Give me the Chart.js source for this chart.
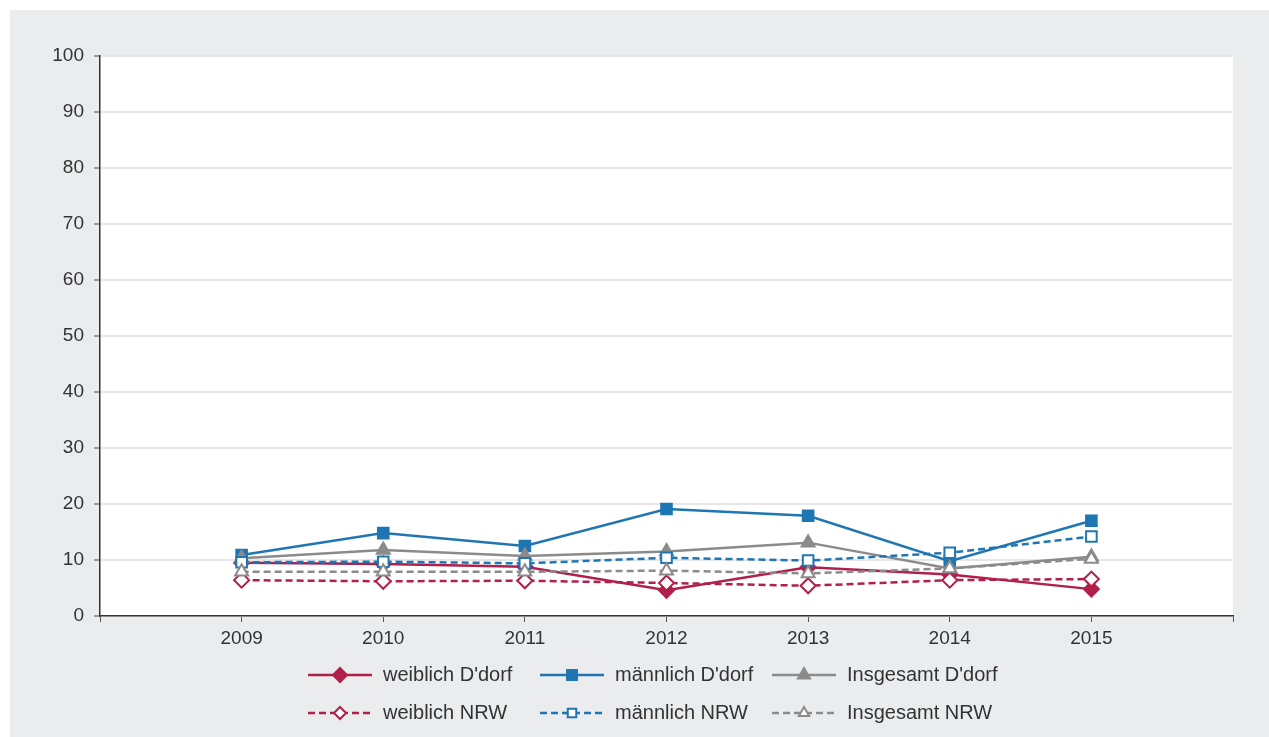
<!DOCTYPE html>
<html>
<head>
<meta charset="utf-8">
<script src="https://cdn.jsdelivr.net/npm/chart.js@4"></script>
<style>
  body { margin: 0; background: #fff; }
  #panel { position: absolute; left: 10px; top: 10px; width: 1259px; height: 727px; background: #ebecee; }
</style>
</head>
<body>
<div id="panel"><canvas id="chart" width="1259" height="727"></canvas></div>
<script>
const years = [2009, 2010, 2011, 2012, 2013, 2014, 2015];
const weiblichDdorf = [9.5, 9.3, 8.8, 4.6, 8.7, 7.4, 4.8];
const maennlichDdorf = [10.9, 14.8, 12.5, 19.1, 17.9, 9.8, 17.0];
const insgesamtDdorf = [10.3, 11.8, 10.7, 11.5, 13.1, 8.5, 10.6];
const weiblichNRW = [6.4, 6.2, 6.3, 5.9, 5.4, 6.4, 6.6];
const maennlichNRW = [9.6, 9.7, 9.4, 10.4, 9.9, 11.3, 14.2];
const insgesamtNRW = [7.9, 7.9, 7.9, 8.1, 7.6, 8.5, 10.2];

const RED = "#b11f4b";
const BLUE = "#1f76b3";
const GREY = "#8b8b8c";
const FONT = "'Liberation Sans', Arial, sans-serif";

function series(label, values, color, style, dashed, order) {
  return {
    label: label,
    data: values.map((v, i) => ({ x: years[i], y: v })),
    borderColor: color,
    borderWidth: 2.5,
    borderDash: dashed ? [7, 4] : [],
    pointStyle: style,
    pointRadius: style === "triangle" ? 7.5 : 7.5,
    pointBorderWidth: 2,
    pointBorderColor: color,
    pointBackgroundColor: dashed ? "#ffffff" : color,
    tension: 0,
    order: order
  };
}

const datasets = [
  series("weiblich D'dorf", weiblichDdorf, RED, "rectRot", false, 6),
  series("männlich D'dorf", maennlichDdorf, BLUE, "rect", false, 5),
  series("Insgesamt D'dorf", insgesamtDdorf, GREY, "triangle", false, 4),
  series("weiblich NRW", weiblichNRW, RED, "rectRot", true, 3),
  series("männlich NRW", maennlichNRW, BLUE, "rect", true, 2),
  series("Insgesamt NRW", insgesamtNRW, GREY, "triangle", true, 1)
];

// white plot area on the grey panel
const plotBackground = {
  id: "plotBackground",
  beforeDraw(chart) {
    const { ctx, chartArea } = chart;
    ctx.save();
    ctx.fillStyle = "#ffffff";
    ctx.fillRect(chartArea.left, chartArea.top, chartArea.right - chartArea.left, chartArea.bottom - chartArea.top);
    ctx.restore();
  }
};

// two-row legend with line samples and markers
const lineLegend = {
  id: "lineLegend",
  afterDraw(chart) {
    const ctx = chart.ctx;
    const startX = 298, colW = 232, sample = 64, rows = [665, 703];
    chart.data.datasets.forEach((ds, i) => {
      const x = startX + (i % 3) * colW;
      const y = rows[Math.floor(i / 3)];
      const open = ds.borderDash.length > 0;
      ctx.save();
      ctx.strokeStyle = ds.borderColor;
      ctx.lineWidth = 2.5;
      ctx.setLineDash(ds.borderDash);
      ctx.beginPath();
      ctx.moveTo(x, y);
      ctx.lineTo(x + sample, y);
      ctx.stroke();
      ctx.setLineDash([]);
      ctx.fillStyle = ds.pointBackgroundColor;
      ctx.strokeStyle = ds.pointBorderColor;
      ctx.lineWidth = 2;
      Chart.helpers.drawPoint(ctx, { pointStyle: ds.pointStyle, radius: open ? 6 : 7, rotation: 0, borderWidth: 2 }, x + sample / 2, y);
      ctx.fillStyle = "#333333";
      ctx.font = "20px " + FONT;
      ctx.textBaseline = "middle";
      ctx.textAlign = "left";
      ctx.fillText(ds.label, x + sample + 11, y);
      ctx.restore();
    });
  }
};

new Chart(document.getElementById("chart"), {
  type: "line",
  data: { datasets: datasets },
  options: {
    responsive: false,
    animation: false,
    layout: { padding: { top: 46, right: 36, bottom: 0, left: 0 } },
    plugins: {
      legend: { display: false },
      tooltip: { enabled: false }
    },
    scales: {
      x: {
        type: "linear",
        min: 2008,
        max: 2016,
        afterFit(scale) { scale.height = 121; },
        ticks: {
          stepSize: 1,
          autoSkip: false,
          padding: 5,
          color: "#333333",
          font: { size: 19, family: FONT },
          callback: v => (v >= 2009 && v <= 2015 ? String(v) : "")
        },
        grid: { drawOnChartArea: false, tickLength: 6, tickColor: "#555555" },
        border: { color: "#333333", width: 1.5 }
      },
      y: {
        min: 0,
        max: 100,
        afterFit(scale) { scale.width = 90; },
        ticks: {
          stepSize: 10,
          padding: 10,
          color: "#333333",
          font: { size: 19, family: FONT }
        },
        grid: { color: "#e6e6e6", lineWidth: 2, tickLength: 6, tickColor: "#999999" },
        border: { color: "#333333", width: 1.5 }
      }
    }
  },
  plugins: [plotBackground, lineLegend]
});
</script>
</body>
</html>
